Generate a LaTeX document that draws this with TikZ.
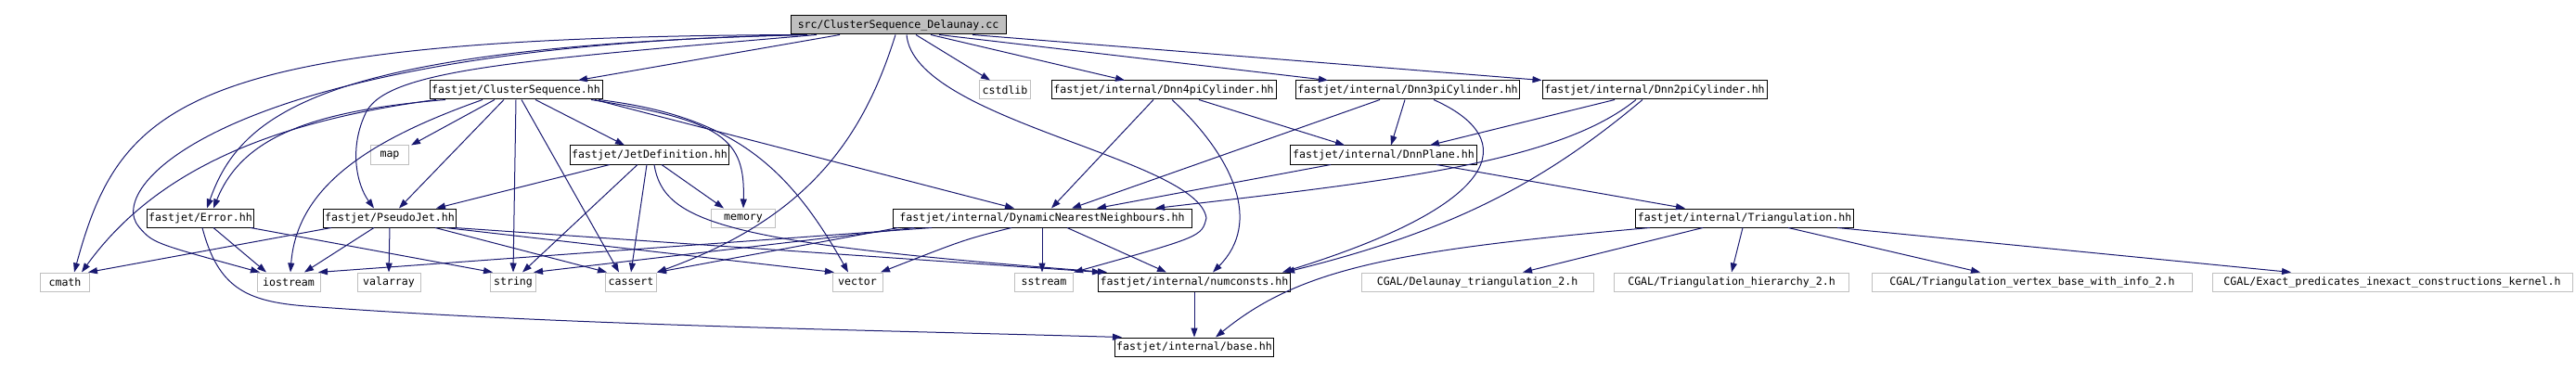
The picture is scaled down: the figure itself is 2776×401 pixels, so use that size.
\documentclass[tikz,border=0pt]{standalone}
\usepackage{fontspec}
\setmonofont{DejaVu Sans Mono}
\usetikzlibrary{arrows.meta}

\definecolor{edgeblue}{HTML}{191970}
\definecolor{sysgray}{HTML}{BFBFBF}

\tikzset{
  hdr/.style={draw=black, line width=1pt, inner xsep=2pt, inner ysep=0pt,
    minimum height=20pt, font=\ttfamily\fontsize{11.6}{12}\selectfont},
  syshdr/.style={hdr, draw=sysgray},
  rootfile/.style={hdr, fill=sysgray},
  inc/.style={color=edgeblue, line width=1pt, -{Triangle[length=10pt,width=7pt]}}
}

\begin{document}
\begin{tikzpicture}[x=1pt,y=-1pt]
    \useasboundingbox (0,0) rectangle (2776,401);

    % Nodos
    \node[rootfile, minimum width=232pt] (src) at (968,27) {src/ClusterSequence\_Delaunay.cc};

    \node[hdr, minimum width=186pt] (cs) at (556,97) {fastjet/ClusterSequence.hh};
    \node[syshdr, minimum width=55pt] (cstdlib) at (1083,97) {cstdlib};
    \node[hdr, minimum width=242pt] (dnnfour) at (1254,97) {fastjet/internal/Dnn4piCylinder.hh};
    \node[hdr, minimum width=240pt] (dnnthree) at (1517,97) {fastjet/internal/Dnn3piCylinder.hh};
    \node[hdr, minimum width=242pt] (dnntwo) at (1783,97) {fastjet/internal/Dnn2piCylinder.hh};

    \node[syshdr, minimum width=41pt] (map) at (420,167) {map};
    \node[hdr, minimum width=165pt] (jetdef) at (700,167) {fastjet/JetDefinition.hh};
    \node[hdr, minimum width=201pt] (dnnplane) at (1491,167) {fastjet/internal/DnnPlane.hh};

    \node[hdr, minimum width=115pt] (error) at (216,235) {fastjet/Error.hh};
    \node[hdr, minimum width=143pt] (pseudojet) at (420,235) {fastjet/PseudoJet.hh};
    \node[syshdr, minimum width=69pt] (memory) at (801,235) {memory};
    \node[hdr, minimum width=322pt] (dnn) at (1123,235) {fastjet/internal/DynamicNearestNeighbours.hh};
    \node[hdr, minimum width=225pt] (triang) at (1880,235) {fastjet/internal/Triangulation.hh};

    \node[syshdr, minimum width=53pt] (cmath) at (70,304) {cmath};
    \node[syshdr, minimum width=68pt] (iostream) at (311,304) {iostream};
    \node[syshdr, minimum width=68pt] (valarray) at (419,304) {valarray};
    \node[syshdr, minimum width=49pt] (string) at (553,304) {string};
    \node[syshdr, minimum width=55pt] (cassert) at (680,304) {cassert};
    \node[syshdr, minimum width=54pt] (vector) at (924,304) {vector};
    \node[syshdr, minimum width=63pt] (sstream) at (1125,304) {sstream};
    \node[hdr, minimum width=204pt] (numconsts) at (1287,304) {fastjet/internal/numconsts.hh};
    \node[syshdr, minimum width=250pt] (cgaldel) at (1592,304) {CGAL/Delaunay\_triangulation\_2.h};
    \node[syshdr, minimum width=253pt] (cgalhier) at (1866,304) {CGAL/Triangulation\_hierarchy\_2.h};
    \node[syshdr, minimum width=345pt] (cgalvert) at (2190,304) {CGAL/Triangulation\_vertex\_base\_with\_info\_2.h};
    \node[syshdr, minimum width=388pt] (cgalexact) at (2578,304) {CGAL/Exact\_predicates\_inexact\_constructions\_kernel.h};

    \node[hdr, minimum width=163pt] (base) at (1287,374) {fastjet/internal/base.hh};

    % Inclusiones del fichero fuente
    \draw[inc] ([xshift=-63pt]src.south) -- ([xshift=67pt]cs.north);
    \draw[inc] ([xshift=-108pt]src.south) .. controls (200,40) and (130,110) .. ([xshift=10pt]cmath.north);
    \draw[inc] ([xshift=-103pt]src.south) .. controls (250,50) and (110,200) .. (150,245)
        .. controls (165,262) .. ([xshift=-31pt]iostream.north);
    \draw[inc] ([xshift=-98pt]src.south) .. controls (350,50) and (260,120) .. ([xshift=7pt]error.north);
    \draw[inc] ([xshift=-88pt]src.south) .. controls (560,65) and (420,75) .. (395,120)
        .. controls (375,160) and (385,200) .. ([xshift=-17pt]pseudojet.north);
    \draw[inc] ([xshift=-3pt]src.south) .. controls (930,150) and (870,235) .. (cassert.north east);
    \draw[inc] ([xshift=9pt]src.south) .. controls (985,130) and (1290,170) .. (1300,235)
        .. controls (1295,255) .. (sstream.north east);
    \draw[inc] ([xshift=19pt]src.south) -- ([xshift=-16pt]cstdlib.north);
    \draw[inc] ([xshift=35pt]src.south) -- ([xshift=-42pt]dnnfour.north);
    \draw[inc] ([xshift=44pt]src.south) -- ([xshift=-86pt]dnnthree.north);
    \draw[inc] ([xshift=80pt]src.south) -- (dnntwo.north west);

    % ClusterSequence.hh
    \draw[inc] ([xshift=-23pt]cs.south) -- ([xshift=23pt]map.north);
    \draw[inc] ([xshift=-13pt]cs.south) -- ([xshift=10pt]pseudojet.north);
    \draw[inc] (cs.south) -- (string.north);
    \draw[inc] ([xshift=6pt]cs.south) -- ([xshift=-13pt]cassert.north);
    \draw[inc] ([xshift=21pt]cs.south) -- ([xshift=-27pt]jetdef.north);
    \draw[inc] ([xshift=81pt]cs.south) .. controls (780,130) and (803,150) .. (memory.north);
    \draw[inc] ([xshift=89pt]cs.south) .. controls (790,125) and (850,180) .. ([xshift=-10pt]vector.north);
    \draw[inc] ([xshift=85pt]cs.south) -- ([xshift=-30pt]dnn.north);
    \draw[inc] ([xshift=-76pt]cs.south) .. controls (330,120) and (260,150) .. ([xshift=14pt]error.north);
    \draw[inc] ([xshift=-86pt]cs.south) .. controls (300,130) and (170,180) .. ([xshift=18pt]cmath.north);
    \draw[inc] ([xshift=-36pt]cs.south) .. controls (400,150) and (320,200) .. ([xshift=2pt]iostream.north);

    % JetDefinition.hh
    \draw[inc] ([xshift=-43pt]jetdef.south) -- ([xshift=50pt]pseudojet.north);
    \draw[inc] ([xshift=-13pt]jetdef.south) -- ([xshift=10pt]string.north);
    \draw[inc] ([xshift=-3pt]jetdef.south) -- (cassert.north);
    \draw[inc] ([xshift=13pt]jetdef.south) -- ([xshift=-21pt]memory.north);
    \draw[inc] ([xshift=5pt]jetdef.south) .. controls (715,240) and (780,262) .. ([xshift=-94pt]numconsts.north);

    % PseudoJet.hh
    \draw[inc] ([xshift=-63pt]pseudojet.south) -- ([xshift=25pt]cmath.north);
    \draw[inc] ([xshift=-17pt]pseudojet.south) -- ([xshift=17pt]iostream.north);
    \draw[inc] (pseudojet.south) -- (valarray.north);
    \draw[inc] ([xshift=49pt]pseudojet.south) -- ([xshift=-26pt]cassert.north);
    \draw[inc] ([xshift=60pt]pseudojet.south) -- ([xshift=-25pt]vector.north);
    \draw[inc] ([xshift=70pt]pseudojet.south) -- ([xshift=-100pt]numconsts.north);

    % Error.hh
    \draw[inc] ([xshift=14pt]error.south) -- ([xshift=-24pt]iostream.north);
    \draw[inc] ([xshift=54pt]error.south) -- ([xshift=-22pt]string.north);
    \draw[inc] ([xshift=2pt]error.south) .. controls (235,310) and (265,325) .. (330,330)
        .. controls (600,350) and (900,355) .. ([xshift=-78pt]base.north);

    % DynamicNearestNeighbours.hh
    \draw[inc] ([xshift=-119pt]dnn.south) -- ([xshift=32pt]iostream.north);
    \draw[inc] ([xshift=-138pt]dnn.south) -- ([xshift=22pt]string.north);
    \draw[inc] ([xshift=-155pt]dnn.south) -- (cassert.north east);
    \draw[inc] ([xshift=-33pt]dnn.south) .. controls (1040,258) .. ([xshift=25pt]vector.north);
    \draw[inc] (dnn.south) -- ([xshift=-2pt]sstream.north);
    \draw[inc] ([xshift=27pt]dnn.south) -- ([xshift=-30pt]numconsts.north);

    % Cilindros y plano
    \draw[inc] ([xshift=-11pt]dnnfour.south) -- ([xshift=10pt]dnn.north);
    \draw[inc] ([xshift=9pt]dnnfour.south) .. controls (1330,170) and (1360,240) .. ([xshift=20pt]numconsts.north);
    \draw[inc] ([xshift=38pt]dnnfour.south) -- ([xshift=-42pt]dnnplane.north);

    \draw[inc] ([xshift=-3pt]dnnthree.south) -- ([xshift=8pt]dnnplane.north);
    \draw[inc] ([xshift=-30pt]dnnthree.south) -- ([xshift=32pt]dnn.north);
    \draw[inc] ([xshift=28pt]dnnthree.south) .. controls (1640,150) and (1620,220) .. ([xshift=95pt]numconsts.north);

    \draw[inc] ([xshift=-43pt]dnntwo.south) -- ([xshift=50pt]dnnplane.north);
    \draw[inc] ([xshift=-20pt]dnntwo.south) .. controls (1680,175) and (1500,195) .. ([xshift=122pt]dnn.north);
    \draw[inc] ([xshift=-13pt]dnntwo.south) .. controls (1660,200) and (1560,250) .. ([xshift=98pt]numconsts.north);

    \draw[inc] ([xshift=-57pt]dnnplane.south) -- ([xshift=59pt]dnn.north);
    \draw[inc] ([xshift=57pt]dnnplane.south) -- ([xshift=-64pt]triang.north);

    % Triangulation.hh
    \draw[inc] ([xshift=-102pt]triang.south) .. controls (1500,270) and (1400,290) .. ([xshift=23pt]base.north);
    \draw[inc] ([xshift=-45pt]triang.south) -- ([xshift=49pt]cgaldel.north);
    \draw[inc] ([xshift=-2pt]triang.south) -- (cgalhier.north);
    \draw[inc] ([xshift=47pt]triang.south) -- ([xshift=-56pt]cgalvert.north);
    \draw[inc] ([xshift=100pt]triang.south) -- ([xshift=-109pt]cgalexact.north);

    % numconsts.hh
    \draw[inc] (numconsts.south) -- (base.north);
\end{tikzpicture}
\end{document}
